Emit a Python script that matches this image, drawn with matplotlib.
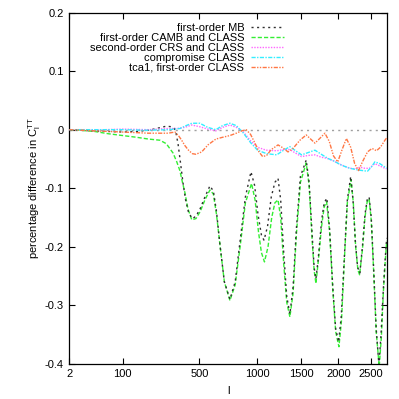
import numpy as np
import matplotlib
matplotlib.use('Agg')
import matplotlib.pyplot as plt
from matplotlib import ticker

plt.rcParams['font.family'] = ['Liberation Sans', 'DejaVu Sans']
plt.rcParams['axes.unicode_minus'] = False

# first-order MB
l_mb = [2, 10, 30, 60, 100, 150, 200, 250, 290, 320, 335, 345, 358, 372, 388, 405, 425, 450, 475,
        505, 540, 578, 605, 630, 660, 695, 743, 790, 835, 885, 939, 975, 1010, 1045, 1072, 1110,
        1150, 1190, 1225, 1255, 1290, 1325, 1362, 1400, 1440, 1490, 1563, 1600, 1640, 1665, 1689,
        1720, 1765, 1800, 1837, 1875, 1920, 1960, 2002, 2040, 2085, 2130, 2180, 2215, 2250, 2285,
        2320, 2360, 2400, 2435, 2466, 2500, 2540, 2580, 2625, 2660, 2700, 2730, 2755]
d_mb = [0, -0.001, -0.002, -0.003, -0.004, -0.003, -0.001, 0.003, 0.006, 0.005, 0.002, -0.005,
        -0.025, -0.055, -0.09, -0.12, -0.142, -0.152, -0.148, -0.135, -0.115, -0.096, -0.105,
        -0.14, -0.2, -0.26, -0.29, -0.26, -0.19, -0.115, -0.072, -0.095, -0.145, -0.18, -0.189,
        -0.165, -0.115, -0.09, -0.083, -0.12, -0.21, -0.285, -0.315, -0.27, -0.17, -0.08, -0.052,
        -0.09, -0.18, -0.235, -0.255, -0.22, -0.155, -0.125, -0.117, -0.17, -0.27, -0.34, -0.363,
        -0.32, -0.22, -0.12, -0.08, -0.12, -0.19, -0.235, -0.245, -0.2, -0.145, -0.12, -0.115,
        -0.15, -0.24, -0.34, -0.402, -0.35, -0.27, -0.22, -0.185]

# first-order CAMB and CLASS
l_camb = [2, 10, 30, 60, 100, 150, 200, 256, 290, 328, 350, 369, 385, 401, 420, 446, 475, 505,
          540, 578, 605, 630, 660, 695, 743, 790, 835, 885, 945, 980, 1015, 1045, 1077, 1115, 1155,
          1190, 1225, 1255, 1290, 1325, 1362, 1400, 1440, 1490, 1563, 1600, 1640, 1665, 1689, 1720,
          1765, 1800, 1833, 1875, 1920, 1960, 2007, 2045, 2085, 2130, 2185, 2220, 2255, 2290, 2316,
          2360, 2400, 2435, 2466, 2500, 2540, 2580, 2630, 2665, 2700, 2730, 2755]
d_camb = [0, -0.001, -0.003, -0.007, -0.01, -0.013, -0.016, -0.018, -0.024, -0.04, -0.055, -0.07,
          -0.09, -0.108, -0.135, -0.154, -0.152, -0.14, -0.12, -0.103, -0.11, -0.145, -0.2, -0.26,
          -0.292, -0.265, -0.2, -0.125, -0.092, -0.12, -0.175, -0.21, -0.226, -0.2, -0.15, -0.125,
          -0.12, -0.15, -0.23, -0.295, -0.32, -0.28, -0.18, -0.09, -0.057, -0.095, -0.19, -0.24,
          -0.263, -0.225, -0.165, -0.132, -0.123, -0.175, -0.275, -0.345, -0.371, -0.325, -0.225,
          -0.125, -0.085, -0.125, -0.2, -0.24, -0.248, -0.205, -0.15, -0.123, -0.118, -0.155,
          -0.245, -0.345, -0.405, -0.355, -0.275, -0.225, -0.19]

# second-order CRS and CLASS
l_crs = [2, 50, 100, 200, 300, 350, 400, 446, 503, 560, 625, 680, 743, 800, 867, 930, 1005, 1095,
         1210, 1290, 1362, 1430, 1505, 1590, 1676, 1760, 1840, 1925, 2000, 2100, 2169, 2250, 2320,
         2400, 2470, 2559, 2640, 2725, 2755]
d_crs = [0, 0.0, 0.001, 0.0, 0.002, 0.002, 0.004, 0.008, 0.005, 0.001, -0.002, 0.004, 0.008,
         0.004, -0.004, -0.018, -0.03, -0.035, -0.036, -0.034, -0.034, -0.04, -0.046, -0.044,
         -0.043, -0.047, -0.049, -0.053, -0.058, -0.063, -0.066, -0.067, -0.064, -0.066, -0.066,
         -0.058, -0.062, -0.066, -0.067]

# compromise CLASS
l_comp = [2, 50, 100, 200, 300, 370, 400, 446, 503, 560, 625, 680, 743, 800, 867, 935, 1005, 1100,
          1210, 1290, 1362, 1430, 1505, 1590, 1676, 1760, 1850, 1925, 2050, 2169, 2300, 2440, 2500,
          2559, 2640, 2725, 2755]
d_comp = [0, 0.0, 0.0, -0.001, 0.0, 0.002, 0.006, 0.011, 0.011, 0.004, 0.0, 0.007, 0.011, 0.007,
          -0.006, -0.022, -0.035, -0.041, -0.043, -0.035, -0.029, -0.036, -0.043, -0.039, -0.035,
          -0.042, -0.049, -0.053, -0.061, -0.066, -0.069, -0.071, -0.064, -0.055, -0.058, -0.064,
          -0.066]

# tca1, first-order CLASS
l_tca = [2, 30, 100, 200, 300, 339, 360, 380, 400, 424, 450, 475, 516, 563, 625, 680, 743, 800,
         850, 893, 935, 979, 1020, 1058, 1100, 1150, 1225, 1280, 1340, 1400, 1484, 1563, 1620, 1676,
         1740, 1810, 1870, 1930, 1990, 2050, 2116, 2180, 2240, 2300, 2360, 2440, 2513, 2585, 2650,
         2725, 2755]
d_tca = [0, -0.002, -0.004, -0.006, -0.006, -0.004, -0.01, -0.018, -0.027, -0.035, -0.041, -0.042,
         -0.038, -0.026, -0.016, -0.013, -0.01, -0.006, -0.002, 0.0, -0.008, -0.023, -0.038, -0.046,
         -0.044, -0.034, -0.026, -0.031, -0.038, -0.032, -0.018, -0.009, -0.016, -0.023, -0.015,
         -0.006, -0.02, -0.045, -0.055, -0.035, -0.015, -0.03, -0.058, -0.07, -0.055, -0.038,
         -0.032, -0.036, -0.03, -0.018, -0.014]

xticks = [2, 100, 500, 1000, 1500, 2000, 2500]
yticks = [0.2, 0.1, 0, -0.1, -0.2, -0.3, -0.4]

fig = plt.figure(figsize=(3.99, 3.99), dpi=100)
ax = fig.add_axes([0.1737, 0.0885, 0.7955, 0.8797])

ax.axhline(0, color='#a0a0a0', lw=1.0, ls=(0, (1.5, 3)), zorder=1)
ax.plot(l_mb, d_mb, color='#303030', lw=1.0, ls=(0, (1.5, 2.5)), label='first-order MB', zorder=3)
ax.plot(l_camb, d_camb, color='#33ee33', lw=1.0, ls=(0, (3, 1.5)), label='first-order CAMB and CLASS', zorder=2)
ax.plot(l_crs, d_crs, color='#ff66ff', lw=1.0, ls=(0, (1, 1)), label='second-order CRS and CLASS', zorder=4)
ax.plot(l_comp, d_comp, color='#33eeff', lw=1.0, ls=(0, (3, 1, 1, 1)), label='compromise CLASS', zorder=5)
ax.plot(l_tca, d_tca, color='#ff7744', lw=1.0, ls=(0, (3, 1, 1, 1, 1, 1)), label='tca1, first-order CLASS', zorder=6)

ax.set_xscale('function', functions=(lambda x: np.sqrt(np.clip(x, 0, None)), lambda y: y ** 2))
ax.set_xlim(2, 2755)
ax.set_ylim(-0.4, 0.2)
ax.set_xticks(xticks)
ax.set_yticks(yticks)
ax.xaxis.set_major_formatter(ticker.FuncFormatter(lambda v, p: '%g' % v))
ax.yaxis.set_major_formatter(ticker.FuncFormatter(lambda v, p: '%g' % v))
ax.minorticks_off()
ax.tick_params(direction='in', length=4, width=0.8, top=True, right=True, labelsize=8, pad=4)
for s in ax.spines.values():
    s.set_linewidth(0.9)

ax.set_xlabel('l', fontsize=8, labelpad=5)
ax.set_ylabel(r'percentage difference in C$_\mathregular{l}^\mathregular{TT}$', fontsize=8, labelpad=1)

leg = ax.legend(loc='upper right', bbox_to_anchor=(0.702, 0.993), frameon=False, fontsize=8,
                markerfirst=False, handlelength=3.0, handletextpad=0.6, labelspacing=0.0,
                borderpad=0.2)

fig.savefig('out.png', dpi=100)
